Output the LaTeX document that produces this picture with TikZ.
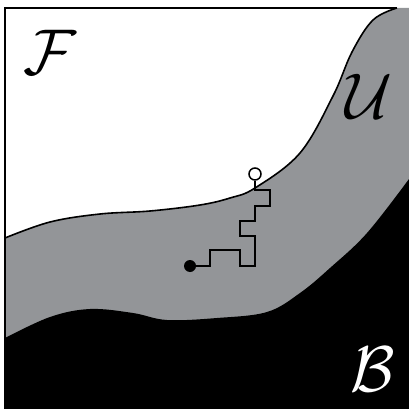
\documentclass[tikz,border=0pt]{standalone}
\usepackage{graphicx}
\usepackage{xcolor}
\definecolor{cFree}{HTML}{FFFFFF}
\definecolor{cUnk}{HTML}{939598}
\definecolor{cBlk}{HTML}{000000}
\usepackage{tikz}
\usetikzlibrary{positioning,calc}
\newcommand{\regionsym}[1]{\scalebox{2.6}{\Huge$\mathcal{#1}$}}
\tikzset{
  region-label/.style={inner sep=0pt},
  pt-start/.style={circle,fill=cBlk,inner sep=0pt,minimum size=12pt},
  pt-goal/.style={circle,draw=cBlk,fill=cFree,line width=1.5pt,inner sep=0pt,minimum size=12pt},
  walk/.style={line width=1.8pt,draw=cBlk,line join=miter},
  border/.style={line width=1.6pt,draw=cBlk},
}

\begin{document}
\begin{tikzpicture}[x=1pt,y=-1pt]
  \useasboundingbox (0,0) rectangle (409,409);
  % regions
  \fill[cFree] (5,8) rectangle (409,409);
  \fill[cUnk] plot[smooth,tension=0.6] coordinates {(5,238) (50,222) (100,214) (150,211)
      (200,205) (230,198) (255,188) (300,153) (333,96) (352,52) (373,20) (397,8)}
    -- (409,8) -- (409,409) -- (5,409) -- cycle;
  \fill[cBlk] plot[smooth,tension=0.6] coordinates {(5,338) (50,317) (90,309) (133,313)
      (167,320) (217,318) (267,312) (300,293) (330,268) (367,233) (409,179)}
    -- (409,409) -- (5,409) -- cycle;
  \draw[border] plot[smooth,tension=0.6] coordinates {(5,238) (50,222) (100,214) (150,211)
      (200,205) (230,198) (255,188) (300,153) (333,96) (352,52) (373,20) (397,8)};
  \draw[border] (5,409) -- (5,8) -- (397,8);
  % labels
  \node[region-label] (F) at (50,52) {\regionsym{F}};
  \node[region-label] (U) at (369,96) {\regionsym{U}};
  \node[region-label,text=cFree] (B) at (373,369) {\regionsym{B}};
  % walk
  \node[pt-start] (start) at (190,266) {};
  \node[pt-goal] (goal) at (255,174) {};
  \draw[walk] (start.center) -- ++(20,0) -- ++(0,-16) -- ++(30,0) -- ++(0,16)
    -- ++(15,0) -- ++(0,-30) -- ++(-15,0) -- ++(0,-15) -- ++(15,0) -- ++(0,-15)
    -- ++(15,0) -- ++(0,-16) -- ++(-15,0) -- (goal.south);
\end{tikzpicture}
\end{document}
